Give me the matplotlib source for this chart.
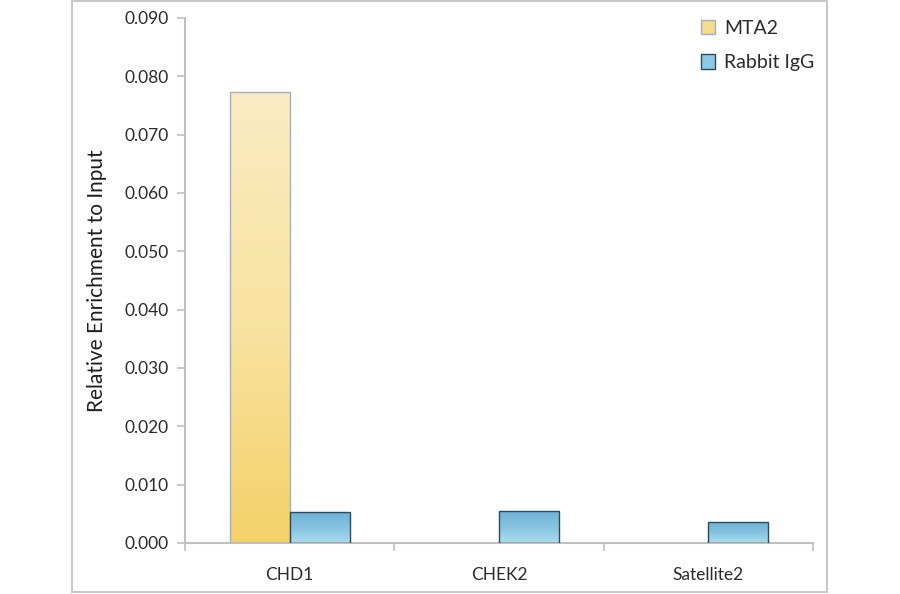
import matplotlib
matplotlib.use("Agg")
import matplotlib.pyplot as plt
import numpy as np
from matplotlib.colors import LinearSegmentedColormap
from matplotlib.patches import Patch, Rectangle

plt.rcParams['font.family'] = ['Lato', 'DejaVu Sans']

# data
categories = ['CHD1', 'CHEK2', 'Satellite2']
mta2 = [0.0773, 0.0, 0.0]
rabbit_igg = [0.0053, 0.0055, 0.0036]
series_names = ['MTA2', 'Rabbit IgG']
y_ticks = [0.0, 0.01, 0.02, 0.03, 0.04, 0.05, 0.06, 0.07, 0.08, 0.09]

TEXT = '#2B2B2B'
AXIS = '#BFBFBF'

# gradients: first color at the bottom of the bar, last at the top
yellow_cmap = LinearSegmentedColormap.from_list('yel', ['#F4D168', '#F8E3A2', '#FBEBC2'])
blue_cmap = LinearSegmentedColormap.from_list('blu', ['#A9DDEF', '#86C3E1', '#6EB1D8'])

fig = plt.figure(figsize=(9, 5.94), dpi=100)
ax = fig.add_axes([0.2056, 0.0859, 0.6978, 0.8838])

# outer frame like the original image border
fig.patches.append(Rectangle((0.08, 0.004), 0.839, 0.995, transform=fig.transFigure,
                             fill=False, edgecolor='#C8C8C8', linewidth=1.5))

x = np.arange(len(categories))
w = 0.286
bars1 = ax.bar(x - w / 2, mta2, w, facecolor='none', edgecolor='#9FB0C4', linewidth=1.0, zorder=3)
bars2 = ax.bar(x + w / 2, rabbit_igg, w, facecolor='none', edgecolor='#2E4A58', linewidth=1.0, zorder=3)

grad = np.linspace(0, 1, 256).reshape(-1, 1)


def fill_gradient(bars, cmap):
    for b in bars:
        h = b.get_height()
        if h <= 0:
            b.set_linewidth(0)
            continue
        x0 = b.get_x()
        im = ax.imshow(grad, cmap=cmap, origin='lower', aspect='auto',
                       extent=[x0, x0 + b.get_width(), 0, h], zorder=2)
        im.set_clip_path(b)


fill_gradient(bars1, yellow_cmap)
fill_gradient(bars2, blue_cmap)

ax.set_xlim(-0.5, len(categories) - 0.5)
ax.set_ylim(0, 0.09)
ax.set_yticks(y_ticks)
ax.set_yticklabels([f'{v:.3f}' for v in y_ticks], fontsize=12.5, color=TEXT)
ax.set_xticks(x)
ax.set_xticklabels(categories, fontsize=12.5, color=TEXT)
ax.set_xticks(np.arange(-0.5, len(categories), 1), minor=True)
ax.tick_params(axis='x', which='major', length=0, pad=17)
ax.tick_params(axis='x', which='minor', length=6, color=AXIS, width=1.2)
ax.tick_params(axis='y', length=6, color=AXIS, width=1.2, pad=6)

for s in ['top', 'right']:
    ax.spines[s].set_visible(False)
for s in ['left', 'bottom']:
    ax.spines[s].set_color(AXIS)
    ax.spines[s].set_linewidth(1.5)

ax.set_ylabel('Relative Enrichment to Input', fontsize=15, color='#1E1E1E', labelpad=12)

handles = [Patch(facecolor='#F6DC8A', edgecolor='#9FB0C4', label=series_names[0]),
           Patch(facecolor='#8CC8E6', edgecolor='#2E4A58', label=series_names[1])]
leg = ax.legend(handles=handles, loc='upper right', bbox_to_anchor=(1.03, 1.03), frameon=False,
                fontsize=14, handlelength=0.75, handleheight=0.75, handletextpad=0.45,
                labelspacing=0.9)
for t in leg.get_texts():
    t.set_color(TEXT)

fig.savefig('out.png', dpi=100, facecolor='white')
